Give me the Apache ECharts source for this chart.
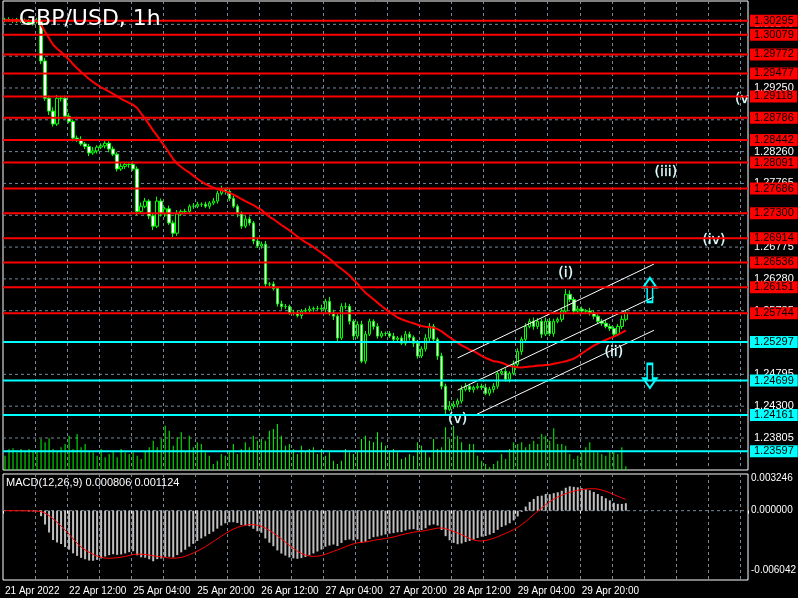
<!DOCTYPE html>
<html><head><meta charset="utf-8">
<script src="https://cdn.jsdelivr.net/npm/echarts@6/dist/echarts.min.js"></script>
<style>html,body{margin:0;background:#000}#c{width:798px;height:598px}</style>
</head><body><div id="c"></div>
<script>
const title = 'GBP/USD, 1h';
const closes = [1.3031,1.3030,1.3031,1.3029,1.3030,1.3028,1.3026,1.3028,1.3030,1.2967,
1.2909,1.2889,1.2869,1.2909,1.2909,1.2881,1.2873,1.2847,1.2845,1.2838,
1.2834,1.2824,1.2827,1.2833,1.2835,1.2839,1.2830,1.2822,1.2799,1.2803,
1.2806,1.2806,1.2799,1.2733,1.2741,1.2749,1.2726,1.2710,1.2749,1.2729,
1.2737,1.2715,1.2699,1.2729,1.2733,1.2733,1.2741,1.2741,1.2744,1.2744,
1.2741,1.2746,1.2749,1.2761,1.2767,1.2764,1.2753,1.2741,1.2729,1.2710,
1.2721,1.2715,1.2687,1.2679,1.2682,1.2620,1.2620,1.2613,1.2589,1.2585,
1.2585,1.2575,1.2575,1.2571,1.2578,1.2579,1.2581,1.2582,1.2582,1.2581,
1.2593,1.2575,1.2570,1.2536,1.2585,1.2585,1.2562,1.2539,1.2557,1.2500,
1.2542,1.2562,1.2554,1.2539,1.2543,1.2543,1.2539,1.2534,1.2536,1.2528,
1.2542,1.2537,1.2528,1.2508,1.2519,1.2536,1.2554,1.2534,1.2508,1.2461,
1.2425,1.2430,1.2433,1.2438,1.2456,1.2461,1.2456,1.2459,1.2461,1.2459,
1.2450,1.2456,1.2461,1.2481,1.2484,1.2472,1.2481,1.2495,1.2515,1.2534,
1.2554,1.2562,1.2554,1.2562,1.2542,1.2562,1.2543,1.2562,1.2565,1.2578,
1.2604,1.2596,1.2578,1.2581,1.2578,1.2578,1.2575,1.2570,1.2562,1.2559,
1.2554,1.2551,1.2542,1.2554,1.2565,1.2575];
const firstOpen = 1.3030;
const hiWickPips = [3,4,2,3,5,3,4,3,4,3, 5,4,6,5,3,4,5,3,4,5, 3,4,6,3,4,5,3,4,3,5,
4,3,5,4,6,5,3,4,7,4, 3,5,4,6,3,4,3,5,4,3, 4,3,5,4,6,3,4,5,3,4, 5,4,3,6,4,5,3,4,3,5,
4,3,5,4,3,4,5,3,4,6, 4,7,5,4,5,6,4,3,5,6, 5,4,3,5,4,3,4,5,3,4, 5,4,3,5,4,6,5,4,3,5,
4,8,5,4,6,5,4,3,5,4, 6,4,5,3,4,5,3,6,5,4, 5,4,6,5,4,6,5,4,3,5, 8,6,4,5,4,3,5,4,3,4,
5,4,3,4,6,4];
const loWickPips = [3,2,4,3,3,4,3,4,3,5, 4,6,4,3,5,4,3,5,4,3, 4,5,3,4,3,4,5,3,4,3,
4,5,3,6,4,3,5,6,3,4, 5,3,6,4,3,4,3,4,3,4, 3,4,3,4,3,5,4,3,5,4, 3,4,5,3,4,5,4,3,4,5,
4,3,4,3,5,4,3,4,3,4, 5,4,6,5,3,4,5,6,4,3, 4,3,5,4,3,4,3,5,4,3, 4,5,6,4,3,4,5,4,6,5,
7,3,4,5,4,3,4,5,3,4, 3,4,5,4,3,4,5,3,4,5, 4,3,5,4,6,3,4,5,3,4, 3,4,5,3,4,3,4,5,3,4,
3,4,5,3,4,3];
const volumes = [43,63,65,53,63,55,63,58,58,93, 83,95,63,58,68,78,103,63,108,68, 78,58,53,43,63,38,48,58,38,63,
53,48,53,43,33,58,68,88,68,93, 133,118,73,98,113,58,103,68,83,78, 53,43,18,28,48,43,58,78,48,63, 83,68,103,88,93,88,118,123,138,103,
73,78,63,48,73,58,63,68,48,63, 43,53,28,18,28,63,53,48,58,93, 103,88,83,113,83,73,58,63,53,33, 38,48,43,83,73,58,38,93,63,68,
128,93,133,103,83,58,78,78,43,28, 18,8,18,28,48,33,63,83,78,83, 68,78,88,78,108,103,88,125,78,78, 73,48,33,43,53,68,83,53,53,48,
43,58,53,48,68,11];
const levelsRed = [1.30295,1.30079,1.29772,1.29477,1.29118,1.28786,1.28442,1.28091,1.27686,1.27300,1.26914,1.26536,1.26151,1.25744];
const levelsCyan = [1.25297,1.24699,1.24161,1.23597];
const priceTicks = [1.23805,1.24300,1.24795,1.25290,1.25785,1.26280,1.26775,1.27270,1.27765,1.28260,1.28755,1.29250,1.29745,1.30240];
const macdTicks = [0.003246,0,-0.006042];
const channelLines = [[[113,1.2505],[162,1.2651]],[[113,1.2455],[162,1.2600]],[[117,1.2415],[162,1.2548]]];
const waveLabels = [['(i)',140,1.2637],['(ii)',152,1.2513],['(v)',113,1.2410],['(iii)',165,1.2793],['(iv)',177,1.2688],['(v',184,1.2908]];
const arrows = [['up',160.5,1.2611],['down',160.5,1.2477]];
const maPeriod = 34;
const slots = 186;

const months=['Jan','Feb','Mar','Apr','May','Jun','Jul','Aug','Sep','Oct','Nov','Dec'];
const cats=[]; let t=Date.UTC(2022,3,21,20);
while(cats.length<slots){const d=new Date(t);const wd=d.getUTCDay();
 if(wd!==0&&wd!==6){const hh=String(d.getUTCHours()).padStart(2,'0');
  cats.push(cats.length===0?'21 Apr 2022':d.getUTCDate()+' '+months[d.getUTCMonth()]+' '+hh+':00');}
 t+=3600000;}
const ohlc=closes.map((c,i)=>{const o=i?closes[i-1]:firstOpen;
 return [o,c,Math.min(o,c)-loWickPips[i]*1e-4,Math.max(o,c)+hiWickPips[i]*1e-4];});
const ma=closes.map((c,i)=>{const s=Math.max(0,i-maPeriod+1);let sum=0;for(let j=s;j<=i;j++)sum+=closes[j];return +(sum/(i-s+1)).toFixed(5);});
function ema(a,n){const k=2/(n+1);const r=[];a.forEach((v,i)=>r.push(i?v*k+r[i-1]*(1-k):v));return r;}
const e12=ema(closes,12),e26=ema(closes,26);
const macd=closes.map((c,i)=>e12[i]-e26[i]);
const sig=macd.map((v,i)=>{const s=Math.max(0,i-8);let sum=0;for(let j=s;j<=i;j++)sum+=macd[j];return sum/(i-s+1);});

const FONT='DejaVu Sans', LFONT='Liberation Sans';
const gridLine={color:'#778899',type:[3,3],width:1};
function hLine(v,xi,yi,lineStyle,label,z){
 return {type:'line',xAxisIndex:xi,yAxisIndex:yi,data:[[0,v],[1,v]],showSymbol:false,silent:true,z:z,
  lineStyle:lineStyle,endLabel:Object.assign({show:true,distance:2,fontSize:11,fontFamily:LFONT},label)};
}
const series=[];
priceTicks.forEach(v=>series.push(hLine(v,2,0,gridLine,{color:'#fff',distance:6,formatter:v.toFixed(5)},1)));
series.push({type:'bar',xAxisIndex:0,yAxisIndex:1,data:volumes,barWidth:1,itemStyle:{color:'#00ff00'},z:2});
series.push({type:'candlestick',xAxisIndex:0,yAxisIndex:0,data:ohlc,barWidth:3,z:3,
   itemStyle:{color:'#000',color0:'#fff',borderColor:'#00ff00',borderColor0:'#00ff00',borderWidth:1}});
series.push({type:'line',xAxisIndex:0,yAxisIndex:0,data:ma,showSymbol:false,lineStyle:{color:'#ff0000',width:2},z:4});
levelsRed.forEach(v=>series.push(hLine(v,2,0,{color:'#ff0000',width:2},{color:'#000',backgroundColor:'#ff0000',padding:[1,4,0,4],formatter:v.toFixed(5)},5)));
levelsCyan.forEach(v=>series.push(hLine(v,2,0,{color:'#00ffff',width:2},{color:'#000',backgroundColor:'#00ffff',padding:[1,4,0,4],formatter:v.toFixed(5)},5)));
series.push({type:'line',xAxisIndex:0,yAxisIndex:0,data:[],z:6,
   markLine:{symbol:'none',silent:true,label:{show:false},lineStyle:{color:'#fff',width:1,type:'solid'},
    data:channelLines.map(l=>[{coord:l[0]},{coord:l[1]}])},
   markPoint:{silent:true,data:[
     ...waveLabels.map(w=>({coord:[w[1],w[2]],symbol:'circle',symbolSize:1,itemStyle:{color:'transparent'},
       label:{show:true,formatter:w[0],color:'#fff',fontSize:14,fontFamily:FONT,position:'inside',textBorderColor:'#3aa',textBorderWidth:0.5}})),
     ...arrows.map(a=>({coord:[a[1],a[2]],symbol:'path://M6,0 L12,7 L8.5,7 L8.5,18 L3.5,18 L3.5,7 L0,7 Z',symbolSize:[13,24],
       symbolRotate:a[0]==='down'?180:0,itemStyle:{color:'transparent',borderColor:'#00ffff',borderWidth:2},label:{show:false}}))]}});
macdTicks.forEach(v=>series.push(hLine(v,3,2,v===0?gridLine:{opacity:0},{color:'#fff',distance:3,fontSize:10,formatter:v.toFixed(6)},1)));
series.push({type:'bar',xAxisIndex:1,yAxisIndex:2,data:macd.map(v=>+v.toFixed(6)),barWidth:2,itemStyle:{color:'#c0c0c0'},z:2});
series.push({type:'line',xAxisIndex:1,yAxisIndex:2,data:sig.map(v=>+v.toFixed(6)),showSymbol:false,lineStyle:{color:'#ff0000',width:1},z:3});

const chart=echarts.init(document.getElementById('c'));
chart.setOption({
 backgroundColor:'#000',animation:false,
 textStyle:{fontFamily:FONT},
 title:{text:title,left:14,top:3,textStyle:{color:'#fff',fontSize:22,fontWeight:'normal',fontFamily:FONT}},
 graphic:[{type:'text',left:6,top:477,style:{text:'MACD(12,26,9) 0.000806 0.001124',fill:'#fff',font:'11px "Liberation Sans"'}}],
 grid:[{left:3,top:1,width:745,height:469,show:true,borderColor:'#fff',borderWidth:1},
       {left:3,top:474,width:745,height:106,show:true,borderColor:'#fff',borderWidth:1}],
 xAxis:[{type:'category',data:cats,gridIndex:0,axisLabel:{show:false},axisTick:{show:false},axisLine:{show:false},
   splitLine:{show:true,interval:(i)=>i%8===0&&i>0,lineStyle:gridLine}},
  {type:'category',data:cats,gridIndex:1,axisLine:{show:false},
   axisTick:{show:true,interval:(i)=>i%16===0&&i<150,length:3,lineStyle:{color:'#fff'}},
   axisLabel:{interval:(i)=>i%16===0&&i<150,color:'#fff',fontSize:10,align:'left',margin:6,fontFamily:LFONT},
   splitLine:{show:true,interval:(i)=>i%8===0&&i>0,lineStyle:gridLine}},
  {type:'value',gridIndex:0,min:0,max:1,show:false},
  {type:'value',gridIndex:1,min:0,max:1,show:false}],
 yAxis:[{type:'value',gridIndex:0,min:1.23307,max:1.30603,show:false,splitLine:{show:false}},
  {type:'value',gridIndex:0,min:0,max:1407,show:false,splitLine:{show:false}},
  {type:'value',gridIndex:1,min:-0.0070,max:0.0037,show:false,splitLine:{show:false}}],
 series:series
});
</script></body></html>
